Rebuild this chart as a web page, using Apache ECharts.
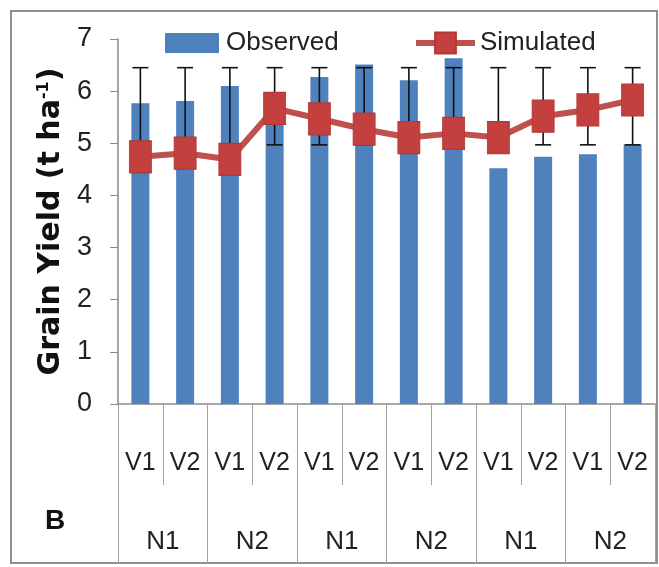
<!DOCTYPE html>
<html>
<head>
<meta charset="utf-8">
<script src="https://cdn.jsdelivr.net/npm/echarts@6/dist/echarts.min.js"></script>
<style>
  html, body { margin: 0; padding: 0; background: #fff; }
  #chart { width: 659px; height: 567px; }
</style>
</head>
<body>
<div id="chart"></div>
<script>
// Cultivar (inner) and nitrogen (outer) category levels
const varieties = ['V1', 'V2', 'V1', 'V2', 'V1', 'V2', 'V1', 'V2', 'V1', 'V2', 'V1', 'V2'];
const nitrogen = ['N1', 'N2', 'N1', 'N2', 'N1', 'N2'];

// Grain yield, t ha-1
const observed = [5.77, 5.81, 6.10, 5.55, 6.27, 6.51, 6.21, 6.63, 4.52, 4.74, 4.79, 4.97];
const simulated = [4.74, 4.81, 4.69, 5.67, 5.47, 5.27, 5.11, 5.19, 5.11, 5.52, 5.64, 5.83];

// Error bar limits
const errLow = [4.97, 4.97, 4.97, 4.97, 4.97, 4.97, 4.97, 4.97, 4.97, 4.97, 4.97, 4.97];
const errHigh = [6.45, 6.45, 6.45, 6.45, 6.45, 6.45, 6.45, 6.45, 6.45, 6.45, 6.45, 6.45];

const yTicks = { min: 0, max: 7, interval: 1 };

const FONT = '"Liberation Sans", Arial, sans-serif';
const BLUE = '#4F81BD';
const RED = '#C0504D';

const errData = errLow.map((lo, i) => [i, lo, errHigh[i]]);

function renderErr(params, api) {
  const i = api.value(0);
  const lo = api.coord([i, api.value(1)]);
  const hi = api.coord([i, api.value(2)]);
  const half = 8;
  const style = { stroke: '#111', lineWidth: 1.6 };
  return {
    type: 'group',
    children: [
      { type: 'line', shape: { x1: lo[0], y1: lo[1], x2: hi[0], y2: hi[1] }, style },
      { type: 'line', shape: { x1: hi[0] - half, y1: hi[1], x2: hi[0] + half, y2: hi[1] }, style },
      { type: 'line', shape: { x1: lo[0] - half, y1: lo[1], x2: lo[0] + half, y2: lo[1] }, style }
    ]
  };
}

const chart = echarts.init(document.getElementById('chart'), null, { renderer: 'canvas' });

chart.setOption({
  backgroundColor: '#fff',
  animation: false,
  grid: { left: 118, right: 4, top: 39, bottom: 163, containLabel: false },
  legend: [
    {
      data: [{ name: 'Observed', icon: 'rect' }],
      left: 165, top: 30, padding: 0,
      itemWidth: 54, itemHeight: 20, itemGap: 0,
      textStyle: { fontFamily: FONT, fontSize: 26, color: '#222', padding: [0, 0, 0, 2] }
    },
    {
      data: ['Simulated'],
      left: 413, top: 30, padding: 0,
      itemWidth: 59, itemHeight: 26, itemGap: 0,
      lineStyle: { width: 6, color: RED },
      textStyle: { fontFamily: FONT, fontSize: 26, color: '#222', padding: [0, 0, 0, 0] }
    }
  ],
  xAxis: [
    {
      type: 'category',
      data: varieties,
      position: 'bottom',
      axisLine: { show: true, lineStyle: { color: '#8a8a8a', width: 1.5 } },
      axisTick: { show: true, interval: 0, length: 81, lineStyle: { color: '#a0a0a0', width: 1 } },
      axisLabel: { interval: 0, margin: 47, fontFamily: FONT, fontSize: 25, color: '#222' },
      splitLine: { show: false }
    },
    {
      type: 'category',
      data: nitrogen,
      position: 'bottom',
      axisLine: { show: false },
      axisTick: { show: true, interval: 0, length: 159, lineStyle: { color: '#a0a0a0', width: 1 } },
      axisLabel: { interval: 0, margin: 125, fontFamily: FONT, fontSize: 26, color: '#222' },
      splitLine: { show: false }
    }
  ],
  yAxis: {
    type: 'value',
    min: yTicks.min, max: yTicks.max, interval: yTicks.interval,
    name: 'Grain Yield (t ha{sup|-1})',
    nameLocation: 'middle',
    nameGap: 48,
    nameRotate: 90,
    nameTextStyle: {
      fontFamily: '"DejaVu Sans", sans-serif', fontWeight: 'bold', fontSize: 30, color: '#111',
      rich: {
        sup: { fontFamily: '"DejaVu Sans", sans-serif', fontWeight: 'bold', fontSize: 16, color: '#111', verticalAlign: 'top', padding: [0, 0, 10, 0] }
      }
    },
    axisLine: { show: true, lineStyle: { color: '#8a8a8a', width: 1.5 } },
    axisTick: { show: true, length: 8, lineStyle: { color: '#8a8a8a' } },
    axisLabel: { margin: 26, fontFamily: FONT, fontSize: 27, color: '#222' },
    splitLine: { show: false }
  },
  graphic: [
    {
      type: 'rect', silent: true, z: -1,
      shape: { x: 11, y: 11, width: 646, height: 552 },
      style: { fill: 'none', stroke: '#8f8f8f', lineWidth: 2 }
    },
    {
      type: 'text', left: 45, top: 507,
      style: { text: 'B', font: 'bold 28px ' + FONT, fill: '#111' }
    }
  ],
  series: [
    {
      name: 'Observed',
      type: 'bar',
      xAxisIndex: 0,
      data: observed,
      barWidth: 18,
      itemStyle: { color: BLUE },
      z: 2
    },
    {
      name: 'errors',
      type: 'custom',
      xAxisIndex: 0,
      data: errData,
      encode: { x: 0, y: [1, 2] },
      renderItem: renderErr,
      z: 3
    },
    {
      name: 'Simulated',
      type: 'line',
      xAxisIndex: 0,
      data: simulated,
      symbol: 'rect',
      symbolSize: [22, 32],
      lineStyle: { color: RED, width: 6 },
      itemStyle: { color: '#C4403E', borderColor: '#B23835', borderWidth: 1 },
      z: 4
    }
  ]
});
</script>
</body>
</html>
